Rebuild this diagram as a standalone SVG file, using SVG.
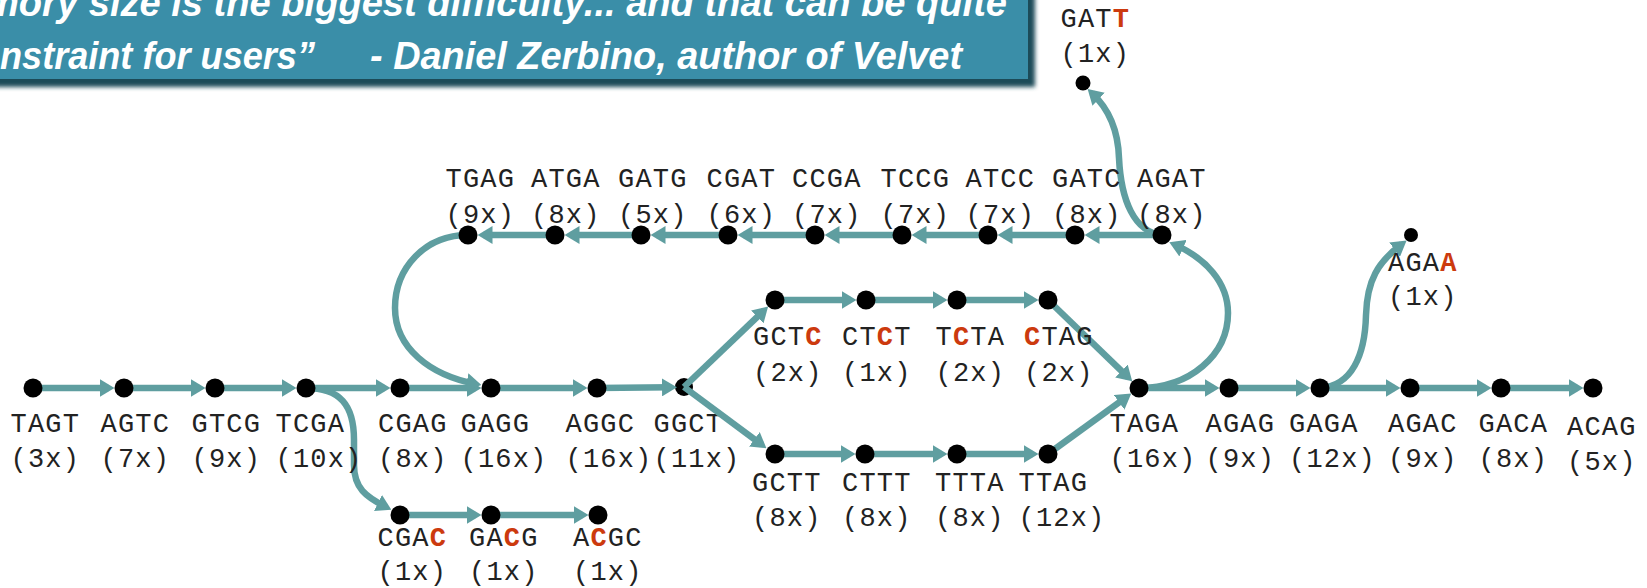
<svg xmlns="http://www.w3.org/2000/svg" width="1647" height="588" viewBox="0 0 1647 588">
  <style>
    .lbl { font-family: "Liberation Mono", "DejaVu Sans Mono", monospace; font-size: 27px; letter-spacing: 1.2px; fill: #222222; }
    .mut { font-weight: bold; fill: #cc3a0e; }
    .node { fill: #000000; }
    .edge { fill: none; stroke: #5f9ea0; stroke-width: 6.5; marker-end: url(#ah); }
    .quote { font-family: "Liberation Sans Narrow", "Liberation Sans", Arial, sans-serif; font-size: 38px; font-weight: bold; font-style: italic; fill: #ffffff; }
  </style>
  <defs>
    <marker id="ah" viewBox="0 0 15 18" markerWidth="15" markerHeight="18" refX="9" refY="9" orient="auto" markerUnits="userSpaceOnUse">
      <path d="M0,0 L15,9 L0,18 z" fill="#5f9ea0"/>
    </marker>
    <filter id="soft" x="-5%" y="-20%" width="110%" height="140%">
      <feGaussianBlur stdDeviation="2"/>
    </filter>
  </defs>

  <rect width="1647" height="588" fill="#ffffff"/>

  <!-- quotation banner -->
  <g id="banner">
    <rect x="-12" y="-12" width="1047" height="99" fill="#1e4b58" filter="url(#soft)"/>
    <rect x="-12" y="-12" width="1040" height="91" fill="#3a8ea8"/>
    <text class="quote" x="-15" y="16" textLength="1022" lengthAdjust="spacingAndGlyphs">mory size is the biggest difficulty... and that can be quite</text>
    <text class="quote" x="0" y="69" textLength="315" lengthAdjust="spacingAndGlyphs">nstraint for users”</text>
    <text class="quote" x="370" y="69" textLength="592" lengthAdjust="spacingAndGlyphs">- Daniel Zerbino, author of Velvet</text>
  </g>

  <!-- branching node drawn beneath its edges -->
  <g id="n-GGCT">
    <circle class="node" cx="684" cy="387" r="9"/>
    <text class="lbl" x="653.5" y="432">GGCT</text>
    <text class="lbl" x="653.5" y="467">(11x)</text>
  </g>

  <!-- connectors -->
  <g id="edges">
    <!-- main row -->
    <path class="edge" d="M33,388 H108.5"/>
    <path class="edge" d="M124,388 H199.5"/>
    <path class="edge" d="M215,388 H290.5"/>
    <path class="edge" d="M306,388 H384.5"/>
    <path class="edge" d="M400,388 H475.5"/>
    <path class="edge" d="M491,388 H581.5"/>
    <path class="edge" d="M597,388 L671,387.3"/>
    <path class="edge" d="M1139,388 H1213.5"/>
    <path class="edge" d="M1229,388 H1304.5"/>
    <path class="edge" d="M1320,388 H1394.5"/>
    <path class="edge" d="M1410,388 H1485.5"/>
    <path class="edge" d="M1501,388 H1577.5"/>
    <!-- upper loop, right to left -->
    <path class="edge" d="M1162,235 H1090.5"/>
    <path class="edge" d="M1075,235 H1003.5"/>
    <path class="edge" d="M988,235 H917.5"/>
    <path class="edge" d="M902,235 H830.5"/>
    <path class="edge" d="M815,235 H743.5"/>
    <path class="edge" d="M728,235 H656.5"/>
    <path class="edge" d="M641,235 H570.5"/>
    <path class="edge" d="M555,235 H483.5"/>
    <!-- bubble paths -->
    <path class="edge" d="M684,387 L763.8,310.7"/>
    <path class="edge" d="M684,387 L761.6,444.7"/>
    <path class="edge" d="M775,300 H850.5"/>
    <path class="edge" d="M866,300 H941.5"/>
    <path class="edge" d="M957,300 H1032.5"/>
    <path class="edge" d="M775,454 H849.5"/>
    <path class="edge" d="M865,454 H941.5"/>
    <path class="edge" d="M957,454 H1032.5"/>
    <path class="edge" d="M1048,300 L1127.9,377.2"/>
    <path class="edge" d="M1048,454 L1126.4,397.1"/>
    <!-- lower tip -->
    <path class="edge" d="M400,515 H475.5"/>
    <path class="edge" d="M491,515 H582.5"/>
    <!-- curved edges -->
    <path class="edge" d="M306,388 C340,388 354,405 354,440 L354,465 C354,488 366,497 386,507"/>
    <path class="edge" d="M468,235 C425,235 395,268 395,308 C395,348 430,375 475.5,383.9"/>
    <path class="edge" d="M1139,388 C1190,388 1228,355 1228,313 C1228,282 1205,258 1174.8,244.6"/>
    <path class="edge" d="M1162,235 C1134,232 1121,200 1119,158 C1118,128 1108,108 1092,93.1"/>
    <path class="edge" d="M1320,388 C1352,386 1365,355 1366,315 C1367,280 1378,262 1401.8,244.2"/>
  </g>

  <!-- main row -->
  <g id="n-TAGT"><circle class="node" cx="33" cy="388" r="9.5"/><text class="lbl" x="10.5" y="432">TAGT</text><text class="lbl" x="10.5" y="467">(3x)</text></g>
  <g id="n-AGTC"><circle class="node" cx="124" cy="388" r="9.5"/><text class="lbl" x="100.5" y="432">AGTC</text><text class="lbl" x="100.5" y="467">(7x)</text></g>
  <g id="n-GTCG"><circle class="node" cx="215" cy="388" r="9.5"/><text class="lbl" x="191.5" y="432">GTCG</text><text class="lbl" x="191.5" y="467">(9x)</text></g>
  <g id="n-TCGA"><circle class="node" cx="306" cy="388" r="9.5"/><text class="lbl" x="275.5" y="432">TCGA</text><text class="lbl" x="275.5" y="467">(10x)</text></g>
  <g id="n-CGAG"><circle class="node" cx="400" cy="388" r="9.5"/><text class="lbl" x="378" y="432">CGAG</text><text class="lbl" x="378" y="467">(8x)</text></g>
  <g id="n-GAGG"><circle class="node" cx="491" cy="388" r="9.5"/><text class="lbl" x="460.5" y="432">GAGG</text><text class="lbl" x="460.5" y="467">(16x)</text></g>
  <g id="n-AGGC"><circle class="node" cx="597" cy="388" r="9.5"/><text class="lbl" x="565.5" y="432">AGGC</text><text class="lbl" x="565.5" y="467">(16x)</text></g>
  <g id="n-TAGA"><circle class="node" cx="1139" cy="388" r="9.5"/><text class="lbl" x="1109.5" y="432">TAGA</text><text class="lbl" x="1109.5" y="467">(16x)</text></g>
  <g id="n-AGAG"><circle class="node" cx="1229" cy="388" r="9.5"/><text class="lbl" x="1205.5" y="432">AGAG</text><text class="lbl" x="1205.5" y="467">(9x)</text></g>
  <g id="n-GAGA"><circle class="node" cx="1320" cy="388" r="9.5"/><text class="lbl" x="1289" y="432">GAGA</text><text class="lbl" x="1289" y="467">(12x)</text></g>
  <g id="n-AGAC"><circle class="node" cx="1410" cy="388" r="9.5"/><text class="lbl" x="1388" y="432">AGAC</text><text class="lbl" x="1388" y="467">(9x)</text></g>
  <g id="n-GACA"><circle class="node" cx="1501" cy="388" r="9.5"/><text class="lbl" x="1478.5" y="432">GACA</text><text class="lbl" x="1478.5" y="467">(8x)</text></g>
  <g id="n-ACAG"><circle class="node" cx="1593" cy="388" r="9.5"/><text class="lbl" x="1567" y="435">ACAG</text><text class="lbl" x="1567" y="470">(5x)</text></g>

  <!-- upper loop -->
  <g id="n-TGAG"><circle class="node" cx="468" cy="235" r="9.5"/><text class="lbl" x="445.5" y="187">TGAG</text><text class="lbl" x="445.5" y="222.5">(9x)</text></g>
  <g id="n-ATGA"><circle class="node" cx="555" cy="235" r="9.5"/><text class="lbl" x="531" y="187">ATGA</text><text class="lbl" x="531" y="222.5">(8x)</text></g>
  <g id="n-GATG"><circle class="node" cx="641" cy="235" r="9.5"/><text class="lbl" x="618" y="187">GATG</text><text class="lbl" x="618" y="222.5">(5x)</text></g>
  <g id="n-CGAT"><circle class="node" cx="728" cy="235" r="9.5"/><text class="lbl" x="706.5" y="187">CGAT</text><text class="lbl" x="706.5" y="222.5">(6x)</text></g>
  <g id="n-CCGA"><circle class="node" cx="815" cy="235" r="9.5"/><text class="lbl" x="792" y="187">CCGA</text><text class="lbl" x="792" y="222.5">(7x)</text></g>
  <g id="n-TCCG"><circle class="node" cx="902" cy="235" r="9.5"/><text class="lbl" x="880.5" y="187">TCCG</text><text class="lbl" x="880.5" y="222.5">(7x)</text></g>
  <g id="n-ATCC"><circle class="node" cx="988" cy="235" r="9.5"/><text class="lbl" x="965.5" y="187">ATCC</text><text class="lbl" x="965.5" y="222.5">(7x)</text></g>
  <g id="n-GATC"><circle class="node" cx="1075" cy="235" r="9.5"/><text class="lbl" x="1052" y="187">GATC</text><text class="lbl" x="1052" y="222.5">(8x)</text></g>
  <g id="n-AGAT"><circle class="node" cx="1162" cy="235" r="9.5"/><text class="lbl" x="1137" y="187">AGAT</text><text class="lbl" x="1137" y="222.5">(8x)</text></g>

  <!-- bubble, upper path -->
  <g id="n-GCTC"><circle class="node" cx="775" cy="300" r="9.5"/><text class="lbl" x="753" y="345">GCT<tspan class="mut">C</tspan></text><text class="lbl" x="753" y="381">(2x)</text></g>
  <g id="n-CTCT"><circle class="node" cx="866" cy="300" r="9.5"/><text class="lbl" x="842" y="345">CT<tspan class="mut">C</tspan>T</text><text class="lbl" x="842" y="381">(1x)</text></g>
  <g id="n-TCTA"><circle class="node" cx="957" cy="300" r="9.5"/><text class="lbl" x="935.5" y="345">T<tspan class="mut">C</tspan>TA</text><text class="lbl" x="935.5" y="381">(2x)</text></g>
  <g id="n-CTAG"><circle class="node" cx="1048" cy="300" r="9.5"/><text class="lbl" x="1024" y="345"><tspan class="mut">C</tspan>TAG</text><text class="lbl" x="1024" y="381">(2x)</text></g>

  <!-- bubble, lower path -->
  <g id="n-GCTT"><circle class="node" cx="775" cy="454" r="9.5"/><text class="lbl" x="752" y="491">GCTT</text><text class="lbl" x="752" y="526">(8x)</text></g>
  <g id="n-CTTT"><circle class="node" cx="865" cy="454" r="9.5"/><text class="lbl" x="842" y="491">CTTT</text><text class="lbl" x="842" y="526">(8x)</text></g>
  <g id="n-TTTA"><circle class="node" cx="957" cy="454" r="9.5"/><text class="lbl" x="935" y="491">TTTA</text><text class="lbl" x="935" y="526">(8x)</text></g>
  <g id="n-TTAG"><circle class="node" cx="1048" cy="454" r="9.5"/><text class="lbl" x="1018.5" y="491">TTAG</text><text class="lbl" x="1018.5" y="526">(12x)</text></g>

  <!-- lower tip -->
  <g id="n-CGAC"><circle class="node" cx="400" cy="515" r="9.5"/><text class="lbl" x="377.5" y="546">CGA<tspan class="mut">C</tspan></text><text class="lbl" x="377.5" y="580">(1x)</text></g>
  <g id="n-GACG"><circle class="node" cx="491" cy="515" r="9.5"/><text class="lbl" x="469" y="546">GA<tspan class="mut">C</tspan>G</text><text class="lbl" x="469" y="580">(1x)</text></g>
  <g id="n-ACGC"><circle class="node" cx="598" cy="515" r="9.5"/><text class="lbl" x="573" y="546">A<tspan class="mut">C</tspan>GC</text><text class="lbl" x="573" y="580">(1x)</text></g>

  <!-- short tips -->
  <g id="n-AGAA"><circle class="node" cx="1411" cy="235" r="7"/><text class="lbl" x="1388" y="271">AGA<tspan class="mut">A</tspan></text><text class="lbl" x="1388" y="305">(1x)</text></g>
  <g id="n-GATT"><circle class="node" cx="1083" cy="83" r="7.5"/><text class="lbl" x="1060.5" y="27">GAT<tspan class="mut">T</tspan></text><text class="lbl" x="1060.5" y="62">(1x)</text></g>
</svg>
